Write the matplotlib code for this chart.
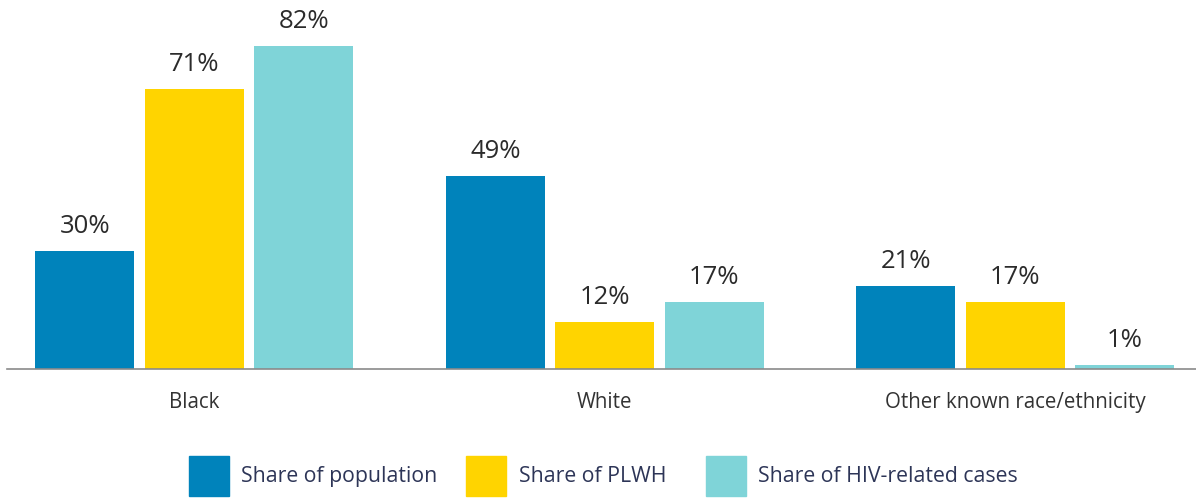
import numpy as np
import matplotlib
matplotlib.use('Agg')
import matplotlib.pyplot as plt
from matplotlib.patches import Rectangle

plt.rcParams['font.family'] = ['Open Sans', 'DejaVu Sans']

grupos = ['Black', 'White', 'Other known race/ethnicity']
series = ['Share of population', 'Share of PLWH', 'Share of HIV-related cases']
populacao = [30, 49, 21]
plwh = [71, 12, 17]
casos_hiv = [82, 17, 1]
cores = ['#0083BB', '#FFD400', '#7FD4D8']

valores = [populacao, plwh, casos_hiv]

W, H = 1196, 498
fig = plt.figure(figsize=(W / 100, H / 100), dpi=100)
ax = fig.add_axes([7 / W, 129 / H, 1189 / W, 355 / H])

x = np.arange(len(grupos))
largura = 0.241
passo = 0.2667

for i, (nome, vals, cor) in enumerate(zip(series, valores, cores)):
    pos = x + (i - 1) * passo
    barras = ax.bar(pos, vals, width=largura, color=cor, label=nome)
    for b, v in zip(barras, vals):
        ax.text(b.get_x() + b.get_width() / 2, v + 3.0, f'{v}%',
                ha='center', va='bottom', fontsize=18.5, color='#2b2b2b')

ax.set_xlim(-0.456, 2.440)
ax.set_ylim(0, 90)
ax.set_xticks(x)
ax.set_xticklabels(grupos, fontsize=14.8, color='#333333')
ax.tick_params(axis='x', length=0, pad=16.5)
ax.set_yticks([])
for lado in ['top', 'right', 'left']:
    ax.spines[lado].set_visible(False)
ax.spines['bottom'].set_color('#8a8a8a')
ax.spines['bottom'].set_linewidth(1.2)

# legenda manual (posicoes em pixels)
patch_x = [189, 466, 706]
texto_x = [241, 519, 758]
for px, tx, nome, cor in zip(patch_x, texto_x, series, cores):
    fig.add_artist(Rectangle((px / W, (H - 496) / H), 40 / W, 40 / H,
                             transform=fig.transFigure, color=cor))
    fig.text(tx / W, (H - 476) / H, nome, ha='left', va='center',
             fontsize=15.3, color='#2d3557')

fig.savefig('out.png', dpi=100)
